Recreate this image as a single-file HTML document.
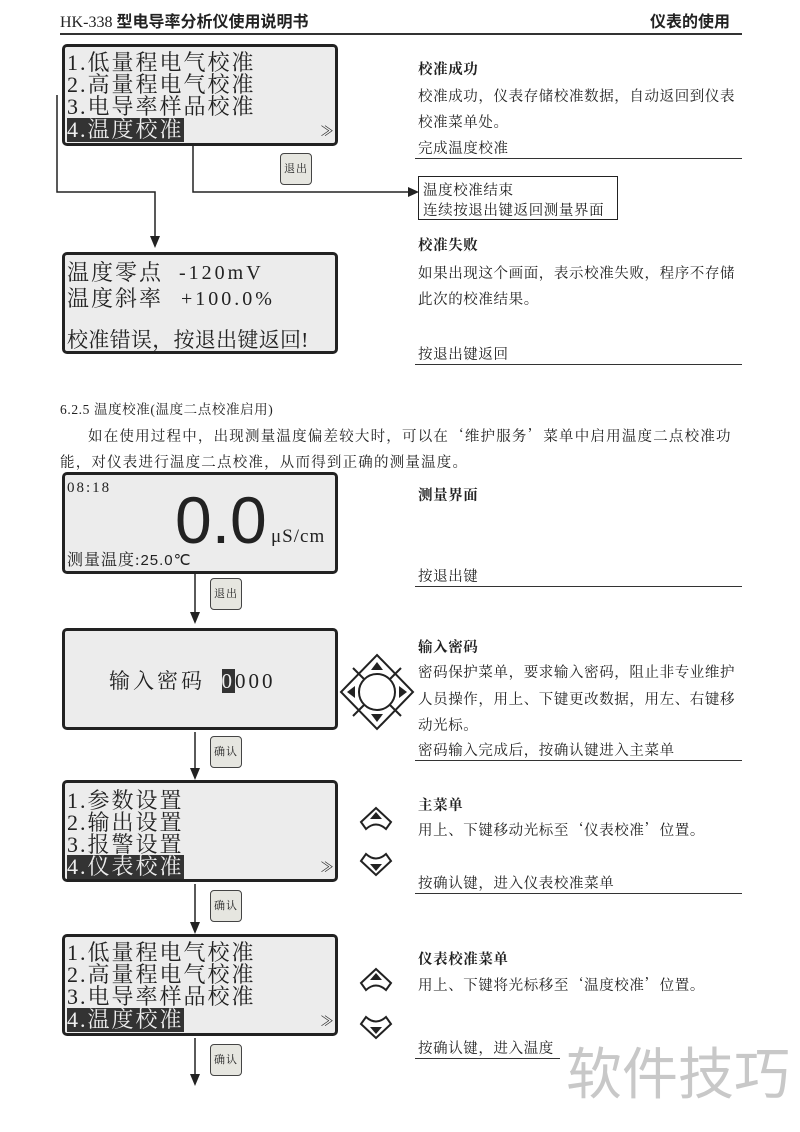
<!DOCTYPE html>
<html><head><meta charset="utf-8"><style>
body{margin:0;background:#fff;}
#p{position:relative;width:800px;height:1132px;overflow:hidden;background:#fff;font-family:"Liberation Serif","Noto Serif CJK SC",serif;color:#222;}
.a{position:absolute;white-space:nowrap;}
.scr{position:absolute;left:62px;width:270px;border:3px solid #222;border-radius:5px;background:#ececec;}
.st{position:absolute;font-size:22px;letter-spacing:2px;line-height:24px;color:#222;white-space:nowrap;font-family:"Liberation Serif","Noto Serif CJK SC",serif;}
.hl{background:#333;color:#eee;}
.btn{position:absolute;width:30px;height:30px;border:1.5px solid #444;border-radius:4px;background:#e6e6e0;font-size:11px;text-align:center;line-height:30px;letter-spacing:1px;}
.t{position:absolute;font-size:14.5px;letter-spacing:0.6px;white-space:nowrap;}
.b{font-weight:bold;}
.ul{position:absolute;height:1px;background:#333;}
.q{font-family:"Noto Serif CJK SC",serif;}
</style></head><body><div id="p">
<div class="a" style="left:60px;top:8px;font-size:16px;">HK-338 <b style="font-family:'Noto Sans CJK SC',sans-serif;font-size:16px;">型电导率分析仪使用说明书</b></div>
<div class="a" style="left:650px;top:8px;font-size:16px;font-weight:bold;font-family:'Noto Sans CJK SC',sans-serif;">仪表的使用</div>
<div class="ul" style="left:60px;top:33px;width:682px;height:1.5px;"></div>

<svg class="a" style="left:0;top:0" width="800" height="1132">
<g stroke="#222" stroke-width="1.5" fill="none">
<polyline points="57,95 57,192 155,192 155,240"/>
<polyline points="193,146 193,192 412,192"/>
<line x1="195" y1="574" x2="195" y2="616"/>
<line x1="195" y1="732" x2="195" y2="772"/>
<line x1="195" y1="884" x2="195" y2="926"/>
<line x1="195" y1="1038" x2="195" y2="1078"/>
</g>
<g fill="#222">
<polygon points="150,236 160,236 155,248"/>
<polygon points="408,187 408,197 419,192"/>
<polygon points="190,612 200,612 195,624"/>
<polygon points="190,768 200,768 195,780"/>
<polygon points="190,922 200,922 195,934"/>
<polygon points="190,1074 200,1074 195,1086"/>
</g>
<g stroke="#222" stroke-width="2" fill="#fff">
<polygon points="377,655 413,692 377,729 341,692"/>
<circle cx="377" cy="692" r="18"/>
<line x1="364" y1="679" x2="353" y2="668"/><line x1="390" y1="679" x2="401" y2="668"/>
<line x1="364" y1="705" x2="353" y2="716"/><line x1="390" y1="705" x2="401" y2="716"/>
</g>
<g fill="#222">
<polygon points="377,662 371,670 383,670"/><polygon points="377,722 371,714 383,714"/>
<polygon points="347,692 355,686 355,698"/><polygon points="407,692 399,686 399,698"/>
</g>
<g stroke="#222" stroke-width="2" fill="none">
<path d="M361,822 L376,808 L391,822 L386,829 Q376,820 366,829 Z"/>
<path d="M361,861 L366,854 Q376,863 386,854 L391,861 L376,875 Z"/>
<path d="M361,983 L376,969 L391,983 L386,990 Q376,981 366,990 Z"/>
<path d="M361,1024 L366,1017 Q376,1026 386,1017 L391,1024 L376,1038 Z"/>
</g>
<g fill="#222">
<polygon points="376,812 370,819 382,819"/><polygon points="376,871 370,864 382,864"/>
<polygon points="376,973 370,980 382,980"/><polygon points="376,1034 370,1027 382,1027"/>
</g>
</svg>

<div class="scr" style="top:44px;height:96px;">
<div class="st" style="left:2px;top:4px;">1.低量程电气校准</div>
<div class="st" style="left:2px;top:26px;">2.高量程电气校准</div>
<div class="st" style="left:2px;top:48px;">3.电导率样品校准</div>
<div class="st hl" style="left:2px;top:71px;">4.温度校准</div>
<div class="st" style="left:255px;top:74px;font-size:14px;">≫</div>
</div>
<div class="btn" style="left:280px;top:153px;">退出</div>

<div class="scr" style="top:252px;height:96px;">
<div class="st" style="left:2px;top:6px;">温度零点</div>
<div class="st" style="left:114px;top:6px;font-size:20px;letter-spacing:3px;">-120mV</div>
<div class="st" style="left:2px;top:32px;">温度斜率</div>
<div class="st" style="left:116px;top:32px;font-size:20px;letter-spacing:3px;">+100.0%</div>
<div class="st" style="left:2px;top:73px;font-size:21px;letter-spacing:0.3px;">校准错误，按退出键返回!</div>
</div>

<div class="t b" style="left:418px;top:58px;">校准成功</div>
<div class="t" style="left:418px;top:85px;">校准成功，仪表存储校准数据，自动返回到仪表</div>
<div class="t" style="left:418px;top:111px;">校准菜单处。</div>
<div class="t" style="left:418px;top:137px;">完成温度校准</div>
<div class="ul" style="left:415px;top:158px;width:327px;"></div>
<div class="a" style="left:418px;top:176px;width:198px;height:42px;border:1.5px solid #222;"></div>
<div class="t" style="left:423px;top:179px;">温度校准结束</div>
<div class="t" style="left:423px;top:199px;">连续按退出键返回测量界面</div>
<div class="t b" style="left:418px;top:234px;">校准失败</div>
<div class="t" style="left:418px;top:262px;">如果出现这个画面，表示校准失败，程序不存储</div>
<div class="t" style="left:418px;top:288px;">此次的校准结果。</div>
<div class="t" style="left:418px;top:343px;">按退出键返回</div>
<div class="ul" style="left:415px;top:364px;width:327px;"></div>

<div class="t" style="left:60px;top:398px;font-size:13.5px;">6.2.5 温度校准(温度二点校准启用)</div>
<div class="t" style="left:88px;top:425px;letter-spacing:1.2px;">如在使用过程中，出现测量温度偏差较大时，可以在<span class="q">‘</span>维护服务<span class="q">’</span>菜单中启用温度二点校准功</div>
<div class="t" style="left:60px;top:451px;letter-spacing:1.2px;">能，对仪表进行温度二点校准，从而得到正确的测量温度。</div>

<div class="scr" style="top:472px;height:96px;">
<div class="st" style="left:2px;top:1px;font-size:15px;letter-spacing:2px;">08:18</div>
<div class="a" style="left:110px;top:10px;font-family:'Liberation Sans',sans-serif;font-size:66px;line-height:70px;">0.0</div>
<div class="st" style="left:206px;top:50px;font-size:19px;letter-spacing:1px;">μS/cm</div>
<div class="st" style="left:2px;top:74px;font-size:16px;letter-spacing:1px;">测量温度:<span style="font-family:'Liberation Sans',sans-serif;font-size:15px;">25.0℃</span></div>
</div>
<div class="btn" style="left:210px;top:578px;">退出</div>

<div class="scr" style="top:628px;height:96px;">
<div class="st" style="left:44px;top:38px;font-size:21px;letter-spacing:3px;">输入密码 &nbsp;<span class="hl">0</span>000</div>
</div>
<div class="btn" style="left:210px;top:736px;">确认</div>

<div class="scr" style="top:780px;height:96px;">
<div class="st" style="left:2px;top:6px;">1.参数设置</div>
<div class="st" style="left:2px;top:28px;">2.输出设置</div>
<div class="st" style="left:2px;top:50px;">3.报警设置</div>
<div class="st hl" style="left:2px;top:72px;">4.仪表校准</div>
<div class="st" style="left:255px;top:74px;font-size:14px;">≫</div>
</div>
<div class="btn" style="left:210px;top:890px;">确认</div>

<div class="scr" style="top:934px;height:96px;">
<div class="st" style="left:2px;top:4px;">1.低量程电气校准</div>
<div class="st" style="left:2px;top:26px;">2.高量程电气校准</div>
<div class="st" style="left:2px;top:48px;">3.电导率样品校准</div>
<div class="st hl" style="left:2px;top:71px;">4.温度校准</div>
<div class="st" style="left:255px;top:74px;font-size:14px;">≫</div>
</div>
<div class="btn" style="left:210px;top:1044px;">确认</div>

<div class="t b" style="left:418px;top:484px;">测量界面</div>
<div class="t" style="left:418px;top:565px;">按退出键</div>
<div class="ul" style="left:415px;top:586px;width:327px;"></div>
<div class="t b" style="left:418px;top:636px;">输入密码</div>
<div class="t" style="left:418px;top:661px;">密码保护菜单，要求输入密码，阻止非专业维护</div>
<div class="t" style="left:418px;top:688px;">人员操作，用上、下键更改数据，用左、右键移</div>
<div class="t" style="left:418px;top:714px;">动光标。</div>
<div class="t" style="left:418px;top:739px;">密码输入完成后，按确认键进入主菜单</div>
<div class="ul" style="left:415px;top:760px;width:327px;"></div>
<div class="t b" style="left:418px;top:794px;">主菜单</div>
<div class="t" style="left:418px;top:819px;">用上、下键移动光标至<span class="q">‘</span>仪表校准<span class="q">’</span>位置。</div>
<div class="t" style="left:418px;top:872px;">按确认键，进入仪表校准菜单</div>
<div class="ul" style="left:415px;top:893px;width:327px;"></div>
<div class="t b" style="left:418px;top:948px;">仪表校准菜单</div>
<div class="t" style="left:418px;top:974px;">用上、下键将光标移至<span class="q">‘</span>温度校准<span class="q">’</span>位置。</div>
<div class="t" style="left:418px;top:1037px;">按确认键，进入温度</div>
<div class="ul" style="left:415px;top:1058px;width:145px;"></div>
<div class="a" style="left:566px;top:1036px;font-family:'Noto Sans CJK SC',sans-serif;font-size:56px;line-height:70px;color:#c8c8c8;background:#fff;">软件技巧</div>
</div></body></html>
